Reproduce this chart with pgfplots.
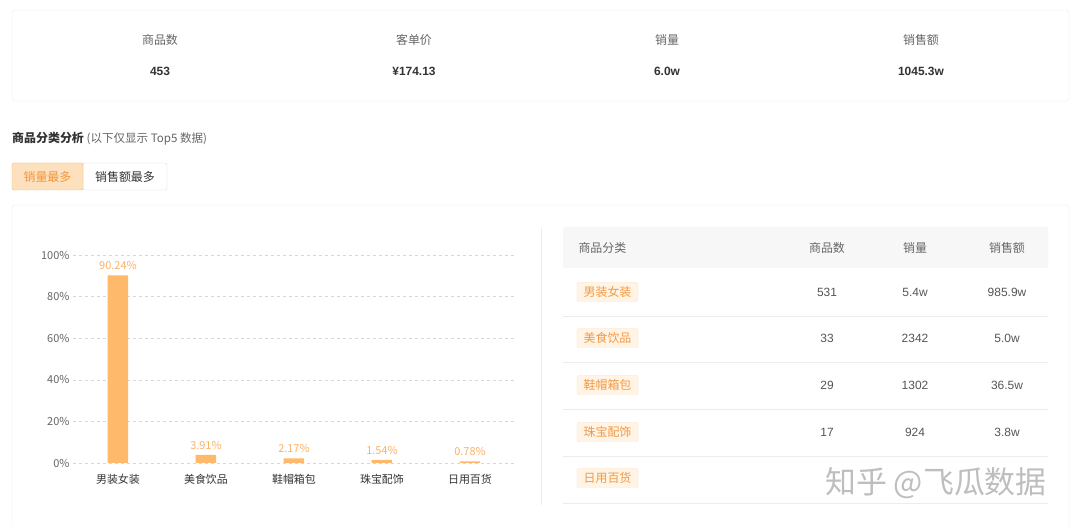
\documentclass[border=0pt]{standalone}
\usepackage{pgfplots}
\pgfplotsset{compat=1.18}
\usepackage{fontspec}
\setmainfont{Noto Sans CJK SC}
\newfontfamily\arial{Liberation Sans}
\definecolor{barorange}{RGB}{255,185,107}
\definecolor{barlabel}{RGB}{250,178,105}
\definecolor{tagtext}{RGB}{242,154,67}
\definecolor{tagfill}{RGB}{255,244,230}
\definecolor{tagborder}{RGB}{253,226,196}
\definecolor{btnfill}{RGB}{253,224,190}
\definecolor{btnborder}{RGB}{248,180,110}
\definecolor{btntext}{RGB}{243,150,60}
\definecolor{cardborder}{RGB}{236,236,236}
\definecolor{btnborder2}{RGB}{220,220,220}
\definecolor{headfill}{RGB}{247,247,247}
\definecolor{txtgray}{RGB}{102,102,102}
\definecolor{txtdark}{RGB}{51,51,51}
\definecolor{valgray}{RGB}{85,85,85}
\definecolor{gridgray}{RGB}{215,215,215}
\definecolor{wmgray}{RGB}{190,190,190}
\begin{document}
\begin{tikzpicture}[x=1bp,y=1bp]
\useasboundingbox[fill=white] (0,0) rectangle (1080,527);
% top summary card
\draw[cardborder, rounded corners=3bp] (12,517) rectangle (1069,426);
\foreach \x/\t in {160/商品数, 414/客单价, 667/销量, 921/销售额}
  \node[text=txtgray, font=\fontsize{12}{14}\selectfont] at (\x,487) {\t};
\foreach \x/\t in {160/453, 414/¥174.13, 667/6.0w, 921/1045.3w}
  \node[text=txtdark, font=\arial\bfseries\fontsize{12}{14}\selectfont] at (\x,456) {\t};
% section title
\node[anchor=west, inner sep=0pt, text=txtdark, font=\fontsize{12}{14}\selectfont] at (12,388)
  {\textbf{商品分类分析} {\color{txtgray}\fontsize{11.6}{13}\selectfont(以下仅显示 Top5 数据)}};
% buttons
\draw[fill=white, draw=btnborder2, rounded corners=2bp] (83,364) rectangle (167,337);
\draw[fill=btnfill, draw=btnborder, rounded corners=2bp] (12,364) rectangle (83,337);
\node[text=btntext, font=\fontsize{12}{14}\selectfont] at (47.5,350.5) {销量最多};
\node[text=txtdark, font=\fontsize{12}{14}\selectfont] at (125,350.5) {销售额最多};
% main card
\draw[cardborder, rounded corners=3bp] (12,322) rectangle (1069,-10);
\draw[cardborder] (541,299) -- (541,22);
% chart
\begin{axis}[
  at={(73bp,64bp)}, anchor=south west, scale only axis,
  width=443bp, height=208bp,
  xmin=-0.511, xmax=4.523, ymin=0, ymax=100,
  axis line style={draw=none}, major tick length=0pt,
  ytick={0,20,40,60,80,100},
  yticklabel={\pgfmathprintnumber{\tick}\%},
  xtick={0,1,2,3,4},
  xticklabels={男装女装,美食饮品,鞋帽箱包,珠宝配饰,日用百货},
  ymajorgrids,
  grid style={draw=gridgray, dash pattern=on 3bp off 3bp},
  ticklabel style={font=\fontsize{11}{13}\selectfont},
  yticklabel style={text=txtgray},
  xticklabel style={text=txtdark, yshift=-8bp},
  /pgf/number format/assume math mode=true,
  ybar, bar width=20.5bp, clip=false,
  nodes near coords={\pgfmathprintnumber[fixed,precision=2,fixed zerofill]{\pgfplotspointmeta}\%},
  nodes near coords style={text=barlabel, font=\fontsize{11}{12}\selectfont, yshift=2bp, /pgf/number format/assume math mode=true},
]
\addplot[fill=barorange, draw=none] coordinates {(0,90.24) (1,3.91) (2,2.17) (3,1.54) (4,0.78)};
\end{axis}
% table header
\fill[headfill, rounded corners=2bp] (563,300) rectangle (1048,259);
\node[anchor=west, text=txtgray, font=\fontsize{12}{14}\selectfont] at (575,279) {商品分类};
\foreach \x/\t in {827/商品数, 915/销量, 1007/销售额}
  \node[text=txtgray, font=\fontsize{12}{14}\selectfont] at (\x,279) {\t};
% rows
\foreach \y/\c/\n/\s/\m in {235/男装女装/531/5.4w/985.9w, 189/美食饮品/33/2342/5.0w, 142/鞋帽箱包/29/1302/36.5w, 95/珠宝配饰/17/924/3.8w}{
  \draw[draw=tagborder, fill=tagfill, rounded corners=2bp] (577,\y-9.5) rectangle (638,\y+9.5);
  \node[text=tagtext, font=\fontsize{12}{14}\selectfont] at (607.5,\y) {\c};
  \node[text=valgray, font=\arial\fontsize{12}{14}\selectfont] at (827,\y) {\n};
  \node[text=valgray, font=\arial\fontsize{12}{14}\selectfont] at (915,\y) {\s};
  \node[text=valgray, font=\arial\fontsize{12}{14}\selectfont] at (1007,\y) {\m};
}
\draw[draw=tagborder, fill=tagfill, rounded corners=2bp] (577,39.5) rectangle (638,58.5);
\node[text=tagtext, font=\fontsize{12}{14}\selectfont] at (607.5,49) {日用百货};
\foreach \y in {211,165,118,71,24}
  \draw[cardborder] (563,\y) -- (1048,\y);
% watermark
\node[text=wmgray, font=\fontsize{31}{33}\selectfont, inner sep=0pt] at (936,44) {知乎 @飞瓜数据};
\end{tikzpicture}
\end{document}
